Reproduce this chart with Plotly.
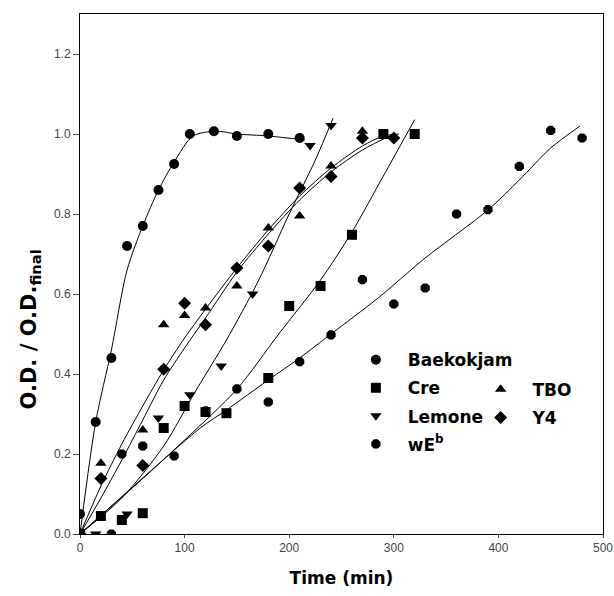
import plotly.graph_objects as go

# ---- measured points ----
baek_t = [0, 0, 15, 30, 45, 60, 75, 90, 105, 128, 150, 180, 210]
baek_y = [0.05, 0.0, 0.28, 0.44, 0.72, 0.77, 0.86, 0.925, 1.0, 1.007, 0.995, 1.0, 0.99]

cre_t = [0, 20, 40, 60, 80, 100, 120, 140, 180, 200, 230, 260, 290, 320]
cre_y = [0, 0.045, 0.035, 0.052, 0.265, 0.32, 0.305, 0.302, 0.39, 0.57, 0.62, 0.748, 1.0, 1.0]

tbo_t = [0, 20, 60, 80, 100, 120, 150, 180, 210, 240, 270]
tbo_y = [0, 0.177, 0.26, 0.523, 0.546, 0.565, 0.62, 0.765, 0.795, 0.92, 1.007]

lem_t = [0, 15, 45, 75, 105, 135, 165, 220, 240]
lem_y = [0, 0, 0.05, 0.29, 0.348, 0.42, 0.6, 0.971, 1.021]

y4_t = [0, 20, 60, 80, 100, 120, 150, 180, 210, 240, 270, 300]
y4_y = [0, 0.139, 0.171, 0.412, 0.577, 0.523, 0.665, 0.72, 0.865, 0.894, 0.99, 0.99]

web_t = [0, 30, 40, 60, 90, 120, 150, 180, 210, 240, 270, 300, 330, 360, 390, 420, 450, 480]
web_y = [0, 0, 0.2, 0.22, 0.195, 0.308, 0.363, 0.33, 0.431, 0.498, 0.636, 0.575, 0.615, 0.8, 0.811, 0.919, 1.009, 0.99]

# ---- fitted curves ----
baek_fit_t = [0, 15, 30, 45, 60, 75, 90, 108, 130, 150, 180, 215]
baek_fit_y = [0, 0.28, 0.46, 0.66, 0.77, 0.86, 0.93, 0.995, 1.007, 1.0, 0.995, 0.985]

cre_fit_t = [0, 50, 100, 150, 190, 230, 260, 290, 320]
cre_fit_y = [0, 0.115, 0.235, 0.362, 0.5, 0.635, 0.755, 0.895, 1.036]

tbo_fit_t = [0, 20, 40, 60, 80, 100, 120, 150, 180, 210, 240, 270, 290, 305]
tbo_fit_y = [0, 0.12, 0.225, 0.32, 0.41, 0.49, 0.562, 0.665, 0.76, 0.845, 0.915, 0.97, 0.995, 1.0]

lem_fit_t = [0, 40, 80, 110, 140, 170, 200, 225, 242]
lem_fit_y = [0, 0.09, 0.22, 0.355, 0.485, 0.63, 0.8, 0.935, 1.04]

y4_fit_t = [0, 20, 40, 60, 80, 100, 120, 150, 180, 210, 240, 270, 300]
y4_fit_y = [0, 0.09, 0.185, 0.285, 0.385, 0.465, 0.54, 0.655, 0.75, 0.835, 0.905, 0.96, 1.0]

web_fit_t = [0, 60, 115, 140, 180, 210, 240, 285, 330, 390, 420, 450, 478]
web_fit_y = [0, 0.14, 0.265, 0.31, 0.385, 0.44, 0.5, 0.59, 0.69, 0.81, 0.885, 0.965, 1.02]

y_ticks = [0.0, 0.2, 0.4, 0.6, 0.8, 1.0, 1.2]
y_tick_text = ["0.0", "0.2", "0.4", "0.6", "0.8", "1.0", "1.2"]
x_ticks = [0, 100, 200, 300, 400, 500]

fig = go.Figure()

line_style = dict(color="black", width=1, shape="spline", smoothing=0.8)
for ft, fy in [(baek_fit_t, baek_fit_y), (cre_fit_t, cre_fit_y), (tbo_fit_t, tbo_fit_y),
               (lem_fit_t, lem_fit_y), (y4_fit_t, y4_fit_y), (web_fit_t, web_fit_y)]:
    fig.add_trace(go.Scatter(x=ft, y=fy, mode="lines", line=line_style,
                             showlegend=False, hoverinfo="skip"))

NB = "&nbsp;&nbsp;"
series = [
    ("Baekokjam", baek_t, baek_y, "circle", "legend", "g1"),
    ("Cre", cre_t, cre_y, "square", "legend", "g2"),
    ("Lemone", lem_t, lem_y, "triangle-down", "legend", "g3"),
    ("wE<sup>b</sup>", web_t, web_y, "octagon", "legend", "g4"),
    ("TBO", tbo_t, tbo_y, "triangle-up", "legend2", "h1"),
    ("Y4", y4_t, y4_y, "diamond", "legend2", "h2"),
]
for name, t, y, sym, lg, grp in series:
    fig.add_trace(go.Scatter(x=t, y=y, mode="markers", name=NB + name,
                             marker=dict(symbol=sym, size=10, color="black",
                                         line=dict(width=0)),
                             legend=lg, legendgroup=grp))

legend_font = dict(family="DejaVu Sans", size=17, color="black", weight="bold")
fig.update_layout(
    width=614, height=596,
    margin=dict(l=80, r=11, t=14, b=62),
    paper_bgcolor="white", plot_bgcolor="white",
    font=dict(family="Liberation Sans", color="black"),
    legend=dict(x=0.5275, y=0.369, xanchor="left", yanchor="top",
                font=legend_font, bgcolor="rgba(0,0,0,0)",
                traceorder="grouped", tracegroupgap=3, itemsizing="trace"),
    legend2=dict(x=0.766, y=0.312, xanchor="left", yanchor="top",
                 font=legend_font, bgcolor="rgba(0,0,0,0)",
                 traceorder="grouped", tracegroupgap=3, itemsizing="trace"),
    xaxis=dict(range=[0, 500], tickvals=x_ticks, ticks="outside", ticklen=3,
               showline=True, linecolor="black", linewidth=1, mirror=True,
               showgrid=False, zeroline=False, automargin=False,
               tickfont=dict(size=12, color="#444"),
               title=dict(text="<b>Time (min)</b>", font=dict(family="DejaVu Sans", size=17),
                          standoff=17)),
    yaxis=dict(range=[0, 1.3], tickvals=y_ticks, ticktext=y_tick_text,
               ticks="outside", ticklen=6,
               showline=True, linecolor="black", linewidth=1, mirror=True,
               showgrid=False, zeroline=False, automargin=False,
               tickfont=dict(size=12, color="#444")),
    annotations=[dict(text="<b>O.D. / O.D.<sub>final</sub></b>", textangle=-90,
                      xref="paper", yref="paper", x=-0.096, y=0.393,
                      xanchor="center", yanchor="middle", showarrow=False,
                      font=dict(family="DejaVu Sans", size=21, color="black"))],
)

fig.write_html("out.html", config={"displayModeBar": False},
               post_script="document.body.style.margin='0px';document.body.style.overflow='hidden';")
